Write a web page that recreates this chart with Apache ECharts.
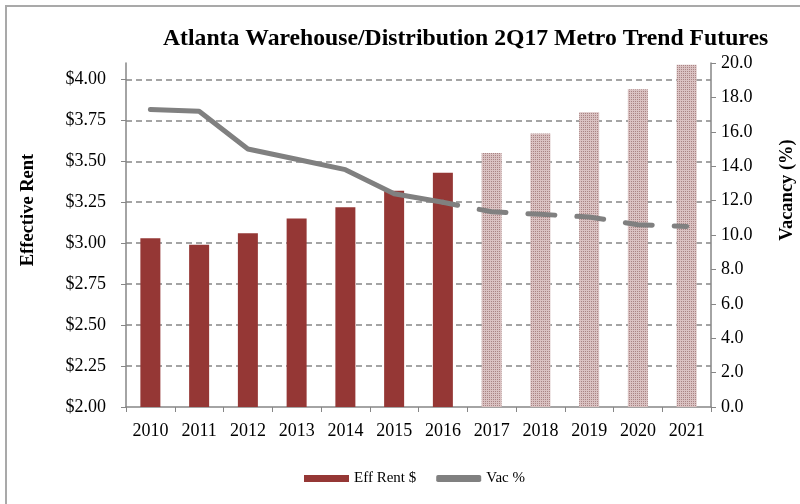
<!DOCTYPE html>
<html>
<head>
<meta charset="utf-8">
<script src="https://cdn.jsdelivr.net/npm/echarts@6/dist/echarts.min.js"></script>
<style>
  html, body { margin: 0; padding: 0; background: #fff; }
  #main { width: 800px; height: 504px; }
</style>
</head>
<body>
<div id="main"></div>
<script>
const years = ['2010', '2011', '2012', '2013', '2014', '2015', '2016', '2017', '2018', '2019', '2020', '2021'];
const effRent = [3.03, 2.99, 3.06, 3.15, 3.22, 3.32, 3.43, 3.55, 3.67, 3.80, 3.94, 4.09];
const vacancy = [17.3, 17.2, 15.0, 14.4, 13.8, 12.4, 11.9, 11.35, 11.2, 11.05, 10.6, 10.5];
const lastActualYear = '2016';

const red = '#953735';
const grey = '#808080';
const font = '"Liberation Serif", "Times New Roman", serif';

// dotted fill for the forecast bars
const pc = document.createElement('canvas');
pc.width = 4; pc.height = 4;
const pctx = pc.getContext('2d');
pctx.fillStyle = '#dac2c2';
pctx.fillRect(0, 0, 4, 4);
pctx.fillStyle = '#a98484';
[[1, 1], [3, 1], [1, 3], [3, 3]].forEach(d => pctx.fillRect(d[0], d[1], 1, 1));
const dotted = { image: pc, repeat: 'repeat' };

const cut = years.indexOf(lastActualYear);

const rentData = effRent.map((v, i) => ({
  value: v,
  itemStyle: { color: i > cut ? dotted : red }
}));
const vacActual = vacancy.map((v, i) => (i <= cut ? v : '-'));
const vacForecast = vacancy.map((v, i) => (i >= cut ? v : '-'));

const chart = echarts.init(document.getElementById('main'));

chart.setOption({
  backgroundColor: '#fff',
  animation: false,
  textStyle: { fontFamily: font, color: '#000' },
  title: {
    text: 'Atlanta Warehouse/Distribution 2Q17 Metro Trend Futures',
    left: 158,
    top: 22,
    textStyle: { fontFamily: font, fontSize: 23.7, fontWeight: 'bold', color: '#000' }
  },
  legend: {
    data: [
      { name: 'Eff Rent $', icon: 'rect' },
      { name: 'Vac %', icon: 'roundRect', itemStyle: { color: grey } }
    ],
    left: 299,
    top: 466,
    itemWidth: 45,
    itemHeight: 7,
    itemGap: 20,
    textStyle: { fontFamily: font, fontSize: 15, color: '#000' }
  },
  grid: { left: 126, right: 89, top: 63, bottom: 97 },
  graphic: [
    {
      type: 'rect',
      shape: { x: 6, y: 6, width: 820, height: 520 },
      style: { fill: 'none', stroke: '#a9a9a9', lineWidth: 2 },
      silent: true
    },
    {
      type: 'text',
      x: 28, y: 210,
      rotation: Math.PI / 2,
      style: {
        text: 'Effective Rent', fontFamily: font, fontSize: 18.5, fontWeight: 'bold',
        fill: '#000', align: 'center', verticalAlign: 'middle'
      }
    },
    {
      type: 'text',
      x: 787, y: 190,
      rotation: Math.PI / 2,
      style: {
        text: 'Vacancy (%)', fontFamily: font, fontSize: 18.5, fontWeight: 'bold',
        fill: '#000', align: 'center', verticalAlign: 'middle'
      }
    }
  ],
  xAxis: {
    type: 'category',
    data: years,
    axisLine: { lineStyle: { color: '#868686', width: 1.5 } },
    axisTick: { show: true, length: 5, lineStyle: { color: '#868686' } },
    axisLabel: { fontFamily: font, fontSize: 18, color: '#000', margin: 15 }
  },
  yAxis: [
    {
      type: 'value',
      min: 2,
      max: 4.1,
      interval: 0.25,
      axisLine: { show: true, lineStyle: { color: '#868686', width: 1.5 } },
      axisTick: { show: true, length: 5, lineStyle: { color: '#868686' } },
      axisLabel: {
        fontFamily: font, fontSize: 18, color: '#000', margin: 20,
        showMaxLabel: false,
        formatter: v => '$' + v.toFixed(2)
      },
      splitLine: {
        show: true,
        showMaxLine: false,
        showMinLine: false,
        lineStyle: { color: '#868686', width: 1.5, type: [6, 4] }
      }
    },
    {
      type: 'value',
      min: 0,
      max: 20,
      interval: 2,
      position: 'right',
      axisLine: { show: true, lineStyle: { color: '#868686', width: 1.5 } },
      axisTick: { show: true, length: 5, lineStyle: { color: '#868686' } },
      axisLabel: {
        fontFamily: font, fontSize: 18, color: '#000', margin: 10,
        formatter: v => v.toFixed(1)
      },
      splitLine: { show: false }
    }
  ],
  series: [
    {
      name: 'Eff Rent $',
      type: 'bar',
      barWidth: 20,
      itemStyle: { color: red },
      data: rentData
    },
    {
      name: 'Vac %',
      type: 'line',
      yAxisIndex: 1,
      symbol: 'none',
      lineStyle: { color: grey, width: 5, cap: 'round', join: 'round' },
      itemStyle: { color: grey },
      data: vacActual,
      z: 5
    },
    {
      name: 'Vac % forecast',
      type: 'line',
      yAxisIndex: 1,
      symbol: 'none',
      lineStyle: { color: grey, width: 5, cap: 'round', type: [27, 22], dashOffset: 12 },
      itemStyle: { color: grey },
      data: vacForecast,
      z: 5
    }
  ]
});
</script>
</body>
</html>
